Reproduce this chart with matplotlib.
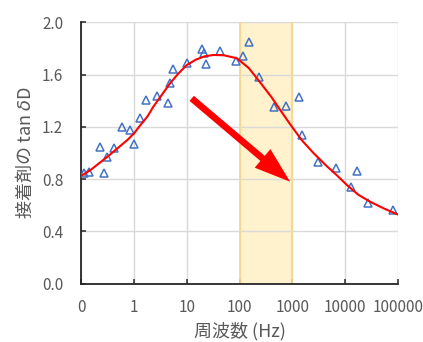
import matplotlib
matplotlib.use("Agg")
import matplotlib.pyplot as plt

plt.rcParams['font.family'] = ['Noto Sans CJK JP', 'DejaVu Sans']

# measured points (frequency Hz, tan delta)
freq = [0.112, 0.142, 0.226, 0.273, 0.303, 0.423, 0.600, 0.828, 0.986, 1.32,
        1.69, 2.73, 4.36, 4.89, 5.50, 10.1, 19.5, 21.6, 23.0, 43.5,
        87.4, 117, 150, 235, 459, 755, 1352, 1521, 3060, 6720,
        13100, 17000, 27200, 83200]
tand = [0.845, 0.857, 1.044, 0.849, 0.967, 1.036, 1.197, 1.174, 1.071, 1.268,
        1.403, 1.434, 1.380, 1.538, 1.643, 1.686, 1.798, 1.767, 1.679, 1.783,
        1.702, 1.744, 1.852, 1.584, 1.354, 1.360, 1.426, 1.138, 0.931, 0.888,
        0.742, 0.860, 0.620, 0.564]

# fitted curve
curve_f = [0.104, 0.15, 0.2, 0.303, 0.5, 0.75, 1.0, 1.3, 1.8, 2.32, 3.3, 4.82, 7.0,
           10, 15, 22, 32, 50, 89, 150, 246, 400, 589, 912, 1500, 2523,
           4500, 7000, 10870, 18000, 30060, 55000, 100000]
curve_y = [0.83, 0.87, 0.91, 0.967, 1.04, 1.10, 1.15, 1.21, 1.28, 1.354, 1.44, 1.533, 1.61,
           1.673, 1.715, 1.74, 1.75, 1.748, 1.725, 1.65, 1.54, 1.43, 1.33, 1.22, 1.10, 1.00,
           0.90, 0.83, 0.755, 0.68, 0.627, 0.575, 0.53]

band = [100, 1000]
arrow_start = (12.4, 1.418)
arrow_end = (912, 0.78)

xticks = [0.1, 1, 10, 100, 1000, 10000, 100000]
xticklabels = ['0', '1', '10', '100', '1000', '10000', '100000']
yticks = [0.0, 0.4, 0.8, 1.2, 1.6, 2.0]
yticklabels = ['0.0', '0.4', '0.8', '1.2', '1.6', '2.0']

fig = plt.figure(figsize=(4.23, 3.42), dpi=100)
ax = fig.add_axes([0.1922, 0.1705, 0.748, 0.7643])

ax.set_xscale('log')
ax.set_xlim(0.1, 100000)
ax.set_ylim(0, 2.0)

ax.axvspan(band[0], band[1], facecolor='#FFF2CC', edgecolor='none', zorder=0.5)
for b in band:
    ax.axvline(b, color='#F6D98E', lw=1.3, zorder=0.6)

ax.grid(True, color='#D9D9D9', lw=1.0, zorder=0)
ax.set_axisbelow(True)

ax.plot(freq, tand, linestyle='none', marker='^', markersize=5.5,
        markerfacecolor='none', markeredgecolor='#4472C4', markeredgewidth=1.1, zorder=3)
ax.plot(curve_f, curve_y, color='#FF0000', lw=1.5, zorder=4)

ax.annotate('', xy=arrow_end, xytext=arrow_start,
            arrowprops=dict(facecolor='#FF0000', edgecolor='none',
                            width=4.8, headwidth=17.5, headlength=26, shrink=0),
            zorder=5)

ax.set_xticks(xticks)
ax.set_xticklabels(xticklabels)
ax.xaxis.set_minor_locator(matplotlib.ticker.NullLocator())
ax.set_yticks(yticks)
ax.set_yticklabels(yticklabels)

for s in ['top', 'right']:
    ax.spines[s].set_visible(False)
for s in ['left', 'bottom']:
    ax.spines[s].set_color('#262626')
    ax.spines[s].set_linewidth(1.3)

ax.tick_params(axis='both', direction='in', length=3.5, width=1.1, color='#262626',
               labelcolor='#595959', labelsize=11)
ax.tick_params(axis='x', pad=11)
ax.tick_params(axis='y', pad=13)

ax.set_xlabel('周波数 (Hz)', color='#595959', fontsize=13, labelpad=4)
ax.set_ylabel('接着剤の tan $\\delta$D', color='#595959', fontsize=13, labelpad=5)

fig.savefig('out.png', dpi=100)
